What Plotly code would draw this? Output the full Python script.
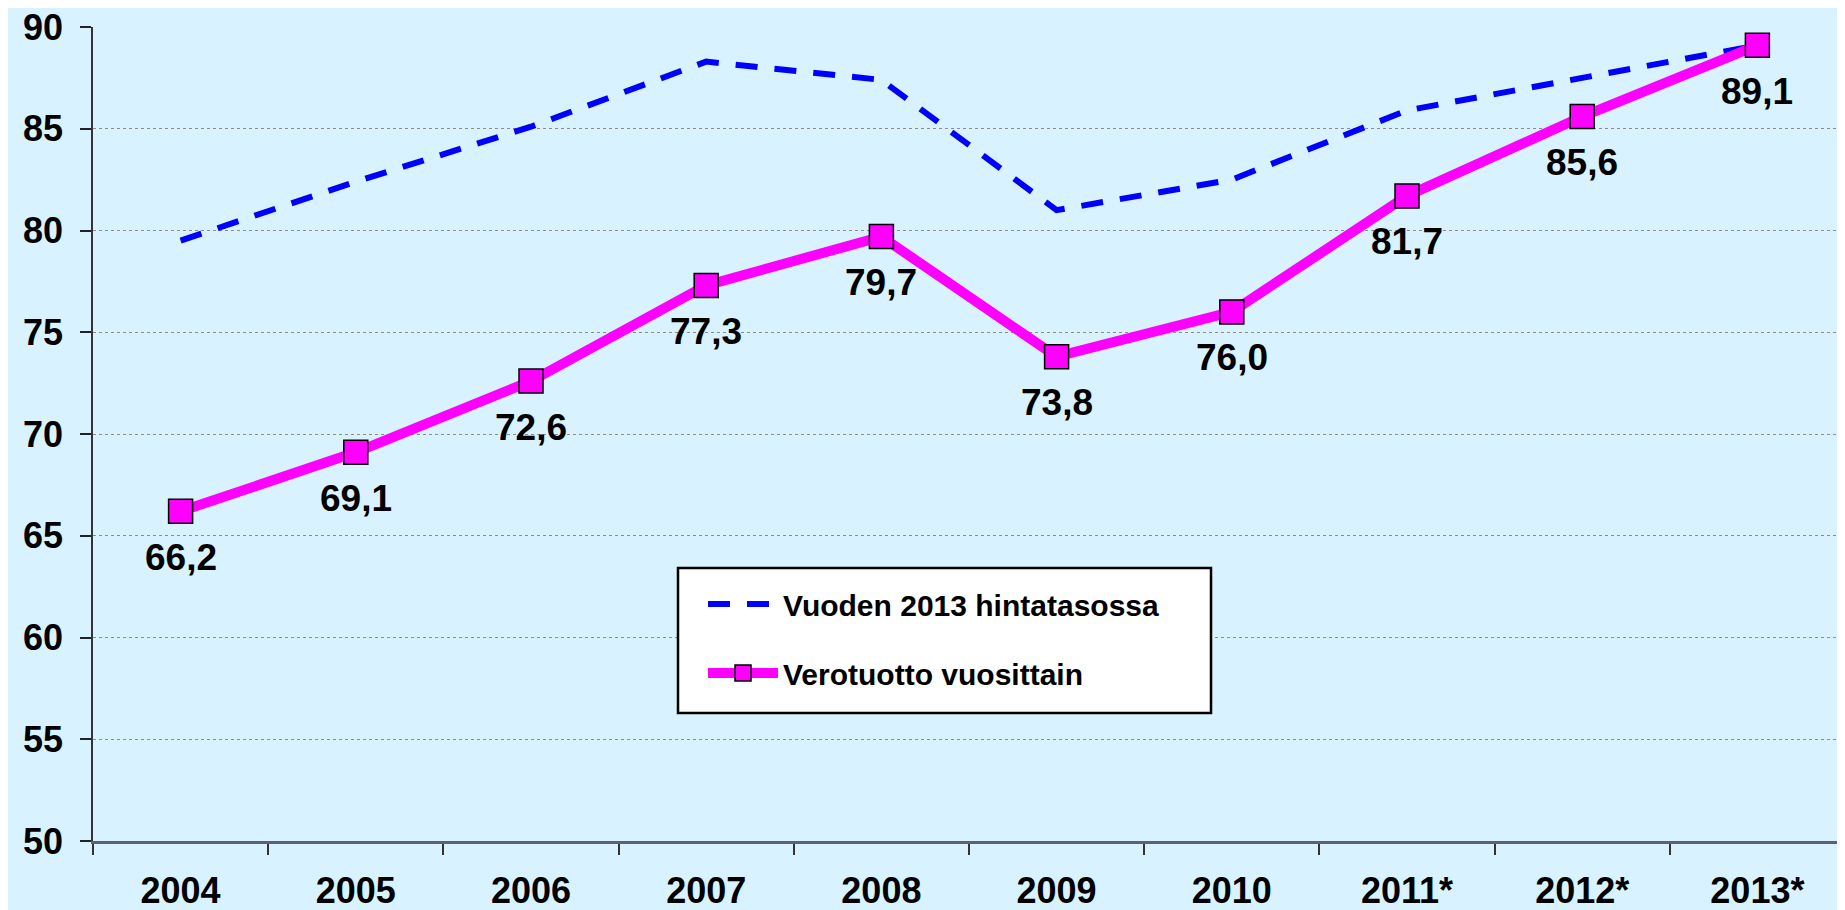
import plotly.graph_objects as go

years = ["2004", "2005", "2006", "2007", "2008", "2009", "2010", "2011*", "2012*", "2013*"]
verotuotto = [66.2, 69.1, 72.6, 77.3, 79.7, 73.8, 76.0, 81.7, 85.6, 89.1]
hintataso2013 = [79.5, 82.4, 85.1, 88.3, 87.4, 81.0, 82.5, 85.9, 87.5, 89.1]
labels = ["66,2", "69,1", "72,6", "77,3", "79,7", "73,8", "76,0", "81,7", "85,6", "89,1"]
y_ticks = [50, 55, 60, 65, 70, 75, 80, 85, 90]

FONT = "Liberation Sans, Arial, sans-serif"
BG = "#D9F2FF"

# page body has an 8px offset; plot area target (screen px): x 93..1845, y 27..841
OFF = 8
L, T, R, B = 93 - OFF, 27 - OFF, 1845 - OFF, 841 - OFF
W, H = 1845, 910
PW, PH = R - L, B - T

def px(xs):
    return (xs - OFF - L) / PW

def py(ys):
    return (B - (ys - OFF)) / PH

fig = go.Figure()
fig.add_trace(go.Scatter(
    x=years, y=hintataso2013, mode="lines", name="Vuoden 2013 hintatasossa",
    line=dict(color="#0000FF", width=6, dash="22px,17px"),
    legendgroup="a", hoverinfo="skip",
))
fig.add_trace(go.Scatter(
    x=years, y=verotuotto, mode="lines+markers", name="Verotuotto vuosittain",
    line=dict(color="#FF00FF", width=10),
    marker=dict(symbol="square", size=24, color="#FF00FF", line=dict(color="#000000", width=1.5)),
    legendgroup="b", hoverinfo="skip",
))

# data labels (category index positions on the category axis)
for i, (yv, t) in enumerate(zip(verotuotto, labels)):
    fig.add_annotation(x=i, y=yv, xref="x", yref="y", text=t, showarrow=False, yshift=-46,
                       font=dict(family=FONT, size=37, color="#000000", weight="bold"))

# legend box
fig.add_shape(type="rect", xref="paper", yref="paper",
              x0=px(678), x1=px(1211), y0=py(713), y1=py(568),
              fillcolor="#FFFFFF", line=dict(color="#000000", width=2.5), layer="above")

fig.update_layout(
    width=W, height=H,
    margin=dict(l=L, r=W - R, t=T, b=H - B, autoexpand=False),
    paper_bgcolor=BG, plot_bgcolor=BG,
    font=dict(family=FONT, color="#000000"),
    showlegend=True,
    legend=dict(
        x=px(703), y=py(578), xanchor="left", yanchor="top",
        bgcolor="rgba(0,0,0,0)", borderwidth=0,
        font=dict(family=FONT, size=30, color="#000000", weight="bold"),
        itemwidth=70, tracegroupgap=27, traceorder="grouped",
    ),
    xaxis=dict(
        type="category", range=[-0.5, 9.5], automargin=False,
        tickson="boundaries", ticks="outside", ticklen=11, tickcolor="#333333", tickwidth=1.5,
        showline=True, linecolor="#5A646E", linewidth=2.5,
        showgrid=False, tickfont=dict(family=FONT, size=36, color="#000000", weight="bold"),
        ticklabelstandoff=16, ticklabeloverflow="allow",
    ),
    yaxis=dict(
        range=[50, 90], tickvals=y_ticks, automargin=False,
        ticks="outside", ticklen=11, tickcolor="#222222", tickwidth=1.5,
        showline=True, linecolor="#333333", linewidth=1.5,
        showgrid=True, gridcolor="#8C8C8C", gridwidth=1, griddash="dot", zeroline=False,
        tickfont=dict(family=FONT, size=36, color="#000000", weight="bold"),
        ticklabelstandoff=10, ticklabeloverflow="allow",
    ),
)

fig.write_html("out.html")
